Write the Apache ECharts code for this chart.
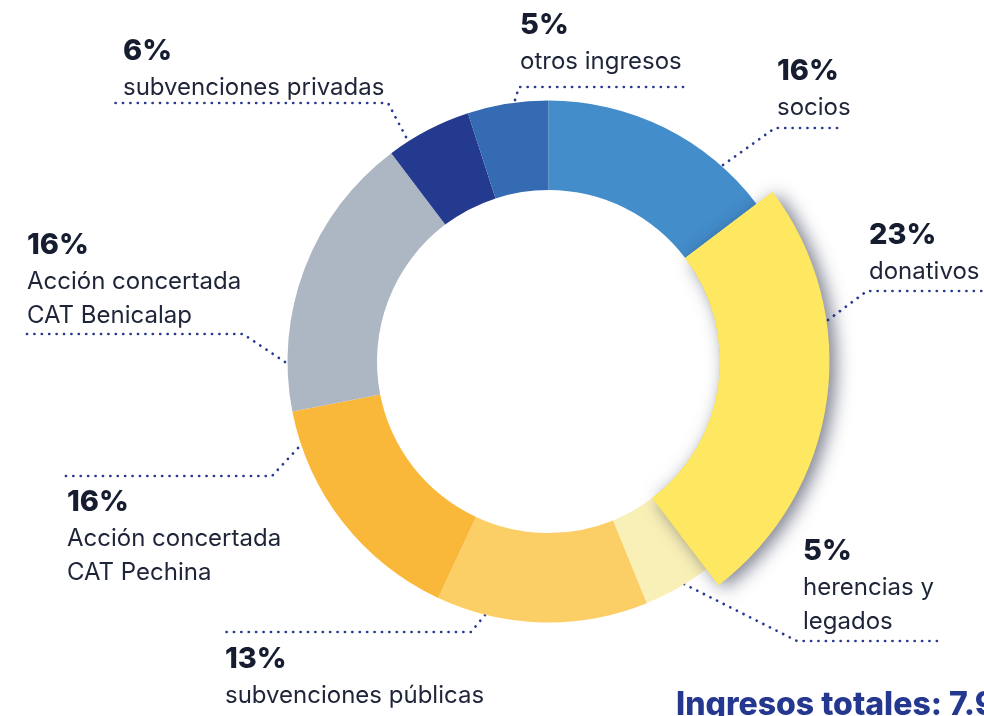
<!DOCTYPE html>
<html>
<head>
<meta charset="utf-8">
<script src="https://cdn.jsdelivr.net/npm/echarts@6/dist/echarts.min.js"></script>
<style>
  html, body { margin: 0; padding: 0; background: #fff; }
  #chart { width: 984px; height: 716px; }
</style>
</head>
<body>
<div id="chart"></div>
<script>
// slices, clockwise from 12 o'clock
const names = ['socios', 'donativos', 'herencias y\nlegados', 'subvenciones públicas',
  'Acción concertada\nCAT Pechina', 'Acción concertada\nCAT Benicalap', 'subvenciones privadas', 'otros ingresos']
// share of the ring as drawn (percent of the circle)
const shares = [14.7, 25.0, 4.2, 13.1, 15.0, 17.8, 5.3, 5.0]
// printed percentages
const pctLabels = ['16%', '23%', '5%', '13%', '16%', '16%', '6%', '5%']
const colors = ['#438dcb', '#fee761', '#f9f0b8', '#fcce66', '#fab83a', '#acb7c3', '#233a8e', '#356bb2']
const highlight = 'donativos'
const totalText = 'Ingresos totales: 7.9'

// label layout (top-left of text block) and leader lines
const labelXY = [[777, 51], [869, 215], [803, 531], [225, 639], [67, 482], [27, 225], [123, 31], [520, 5]]
const leaders = [
  [[723, 165], [775, 128], [840, 128]],
  [[828, 320], [867, 291], [990, 291]],
  [[684, 584], [797, 641], [941, 641]],
  [[485, 615], [471, 632], [223, 632]],
  [[298, 448], [272, 476], [61, 476]],
  [[285, 362], [243, 334], [23, 334]],
  [[406, 137], [388, 103], [115, 103]],
  [[515, 100], [519, 87], [683, 87]]
]

const chart = echarts.init(document.getElementById('chart'))

const center = [548.5, 361.5]

chart.setOption({
  animation: false,
  title: {
    text: totalText,
    left: 676,
    top: 689,
    padding: 0,
    textStyle: { fontFamily: 'Inter', fontSize: 32, fontWeight: 800, color: '#253890' }
  },
  series: [
    {
      type: 'pie',
      center: center,
      radius: [171.5, 261],
      startAngle: 90,
      avoidLabelOverlap: false,
      emphasis: { disabled: true },
      data: names.map((n, i) => ({
        name: n,
        value: shares[i],
        itemStyle: { color: colors[i] }
      })),
      label: {
        show: true,
        position: 'outside',
        formatter: (p) => '{pct|' + pctLabels[p.dataIndex] + '}\n' +
          p.name.split('\n').map(s => '{nm|' + s + '}').join('\n'),
        rich: {
          pct: { fontFamily: 'Inter', fontSize: 29, fontWeight: 800, color: '#171d30', lineHeight: 40 },
          nm: { fontFamily: 'Inter', fontSize: 24, color: '#1e2538', lineHeight: 34 }
        }
      },
      labelLine: {
        show: true,
        lineStyle: { color: '#283a90', width: 2.7, type: [0.1, 7.3], cap: 'round' }
      },
      labelLayout: (params) => {
        const i = params.dataIndex
        return {
          x: labelXY[i][0],
          y: labelXY[i][1],
          align: 'left',
          verticalAlign: 'top',
          labelLinePoints: leaders[i]
        }
      }
    },
    {
      // the highlighted slice drawn bigger with a shadow
      type: 'pie',
      center: center,
      radius: [171.5, 281],
      startAngle: 90,
      silent: true,
      z: 3,
      emphasis: { disabled: true },
      label: { show: false },
      labelLine: { show: false },
      data: names.map((n, i) => ({
        name: n,
        value: shares[i],
        itemStyle: n === highlight
          ? { color: colors[i], shadowBlur: 18, shadowColor: 'rgba(35,40,65,0.6)', shadowOffsetX: 6, shadowOffsetY: 3 }
          : { color: 'rgba(0,0,0,0)' }
      }))
    }
  ]
})
</script>
</body>
</html>
